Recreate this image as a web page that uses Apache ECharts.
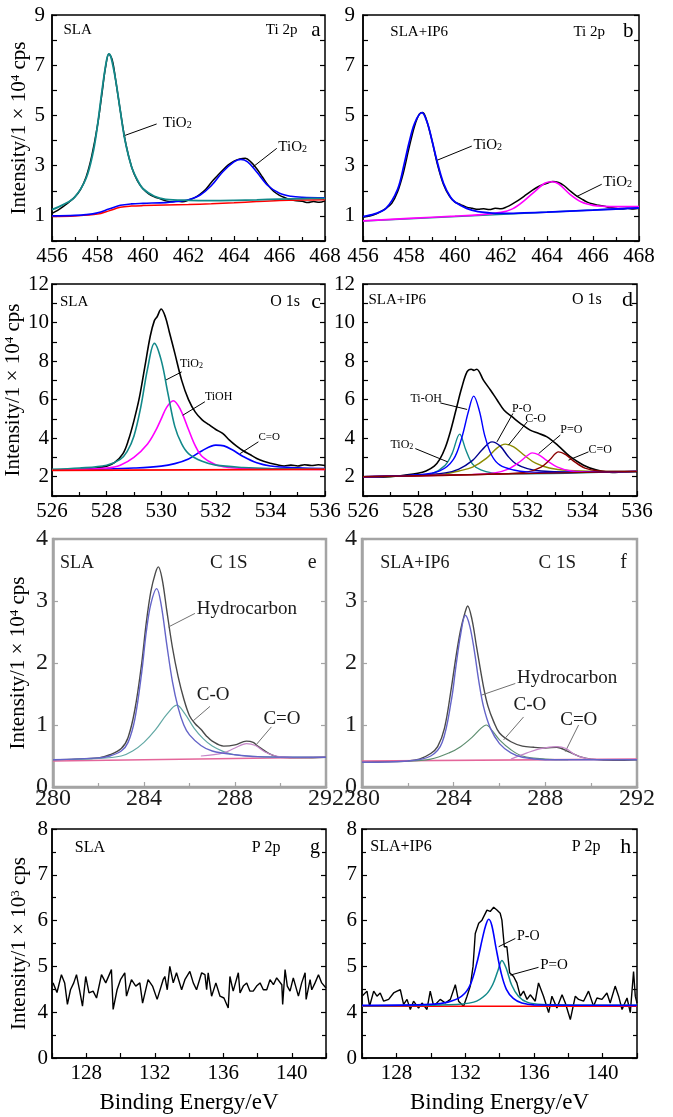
<!DOCTYPE html>
<html><head><meta charset="utf-8">
<script src="https://cdn.jsdelivr.net/npm/echarts/dist/echarts.min.js"></script>
<style>html,body{margin:0;padding:0;background:#fff}#c{width:673px;height:1117px}</style>
</head><body><div id="c"></div>
<script>
// ---------------- DATA (binding energy eV, intensity) ----------------
// Panel a : SLA, Ti 2p
const aRaw = [[456,1.1],[456.25,1.22],[456.5,1.38],[456.75,1.55],[457,1.75],[457.25,2.05],[457.5,2.55],[457.75,3.4],[458,4.6],[458.2,5.9],[458.35,6.9],[458.5,7.45],[458.65,7.2],[458.8,6.4],[459,5.2],[459.25,3.85],[459.5,2.95],[459.75,2.4],[460,2.08],[460.25,1.88],[460.5,1.76],[460.75,1.68],[461,1.6],[461.25,1.56],[461.5,1.59],[461.75,1.56],[462,1.63],[462.25,1.72],[462.5,1.86],[462.75,2.05],[463,2.33],[463.25,2.58],[463.5,2.82],[463.75,3.03],[464,3.18],[464.25,3.27],[464.5,3.3],[464.75,3.14],[465,2.88],[465.25,2.55],[465.5,2.22],[465.75,1.97],[466,1.82],[466.25,1.72],[466.5,1.64],[466.75,1.6],[467,1.58],[467.25,1.53],[467.5,1.57],[467.75,1.54],[468,1.6]];
const aTiO2a = [[456,1.25],[456.5,1.45],[457,1.75],[457.5,2.5],[457.8,3.5],[458,4.6],[458.2,6.0],[458.4,7.2],[458.5,7.45],[458.6,7.3],[458.8,6.4],[459,5.2],[459.2,4.05],[459.5,2.95],[459.8,2.35],[460,2.08],[460.5,1.78],[461,1.66],[462,1.62],[463,1.61],[464,1.62],[465,1.64],[466,1.67],[467,1.69],[468,1.7]];
const aTiO2b = [[456,1.0],[457,1.02],[457.5,1.05],[458,1.12],[458.5,1.27],[459,1.42],[459.5,1.48],[460,1.5],[461,1.53],[461.5,1.57],[462,1.64],[462.5,1.82],[463,2.2],[463.5,2.75],[464,3.15],[464.3,3.25],[464.6,3.15],[465,2.75],[465.5,2.2],[466,1.9],[466.5,1.78],[467,1.74],[468,1.72]];
const aBase = [[456,0.98],[457,1.0],[458,1.07],[458.5,1.2],[459,1.34],[459.5,1.39],[460,1.41],[461,1.43],[462,1.45],[463,1.48],[464,1.52],[465,1.57],[466,1.61],[467,1.63],[468,1.64]];
// Panel b : SLA+IP6, Ti 2p
const bRaw = [[456,0.95],[456.5,1.05],[457,1.3],[457.25,1.5],[457.5,1.95],[457.75,2.7],[458,3.7],[458.25,4.6],[458.45,5.05],[458.6,5.12],[458.75,4.85],[459,4.0],[459.25,3.0],[459.5,2.25],[459.75,1.8],[460,1.55],[460.25,1.45],[460.5,1.35],[460.75,1.3],[461,1.26],[461.25,1.28],[461.5,1.25],[461.75,1.3],[462,1.28],[462.25,1.36],[462.5,1.48],[462.75,1.62],[463,1.78],[463.25,1.95],[463.5,2.1],[463.75,2.22],[464,2.3],[464.25,2.37],[464.5,2.33],[464.75,2.2],[465,2.0],[465.25,1.82],[465.5,1.68],[465.75,1.55],[466,1.47],[466.25,1.42],[466.5,1.38],[466.75,1.33],[467,1.3],[467.25,1.27],[467.5,1.3],[467.75,1.27],[468,1.3]];
const bTiO2a = [[456,0.97],[456.5,1.08],[457,1.3],[457.5,2.05],[457.8,3.1],[458,3.9],[458.25,4.7],[458.56,5.11],[458.8,4.7],[459,4.0],[459.2,3.25],[459.5,2.3],[459.8,1.75],[460,1.55],[460.5,1.3],[461,1.17],[461.5,1.12],[462,1.1],[463,1.12],[464,1.15],[466,1.23],[468,1.32]];
const bTiO2b = [[456,0.8],[458,0.9],[460,0.99],[461,1.04],[462,1.14],[462.5,1.28],[463,1.6],[463.5,2.0],[463.9,2.3],[464.2,2.36],[464.5,2.28],[465,1.86],[465.5,1.55],[466,1.42],[466.5,1.38],[467,1.37],[468,1.37]];
const bBase = [[456,0.8],[468,1.32]];
// Panel c : SLA, O 1s
const cRaw = [[526,2.35],[527,2.38],[527.5,2.42],[528,2.55],[528.3,2.75],[528.6,3.2],[528.8,3.9],[529,4.9],[529.2,6.1],[529.4,7.7],[529.6,9.3],[529.75,10.1],[529.85,10.3],[530,10.7],[530.15,10.3],[530.3,9.5],[530.5,8.4],[530.75,7.0],[531,6.0],[531.25,5.35],[531.5,4.95],[531.75,4.7],[532,4.45],[532.25,4.25],[532.5,3.9],[532.75,3.6],[533,3.35],[533.25,3.15],[533.5,2.95],[533.75,2.8],[534,2.7],[534.25,2.62],[534.5,2.56],[534.75,2.6],[535,2.56],[535.25,2.62],[535.5,2.58],[535.75,2.62],[536,2.58]];
const cTiO2 = [[526,2.38],[527,2.45],[528,2.6],[528.5,2.9],[528.75,3.3],[529,4.1],[529.25,5.6],[529.5,7.6],[529.75,8.92],[530,8.05],[530.25,6.3],[530.5,4.6],[530.75,3.7],[531,3.2],[531.5,2.8],[532,2.6],[533,2.48],[534,2.43],[536,2.4]];
const cTiOH = [[526,2.35],[527,2.38],[528,2.45],[528.5,2.6],[529,3.0],[529.5,3.7],[529.8,4.4],[530,5.0],[530.2,5.6],[530.44,5.94],[530.7,5.5],[531,4.45],[531.25,3.6],[531.5,3.05],[532,2.62],[532.5,2.48],[533,2.43],[534,2.4],[536,2.38]];
const cCdO = [[526,2.35],[528,2.4],[529,2.45],[530,2.55],[530.5,2.68],[531,2.92],[531.5,3.35],[532,3.64],[532.3,3.6],[532.6,3.4],[533,3.05],[533.5,2.72],[534,2.56],[535,2.46],[536,2.42]];
const cBase = [[526,2.33],[536,2.38]];
// Panel d : SLA+IP6, O 1s
const dRaw = [[526,2.0],[526.5,1.97],[527,2.0],[527.5,2.08],[528,2.18],[528.3,2.3],[528.6,2.55],[528.8,2.9],[529,3.5],[529.2,4.4],[529.4,5.5],[529.6,6.6],[529.8,7.45],[529.95,7.58],[530.05,7.52],[530.15,7.58],[530.4,7.0],[530.65,6.5],[530.9,5.97],[531.15,5.45],[531.45,5.1],[531.75,4.76],[532.1,4.42],[532.4,4.25],[532.7,4.08],[533.1,3.64],[533.55,3.05],[534.05,2.6],[534.5,2.36],[535.1,2.22],[535.5,2.25],[536,2.26]];
const dTiO2 = [[526,2.0],[528,2.06],[528.5,2.15],[529,2.6],[529.25,3.2],[529.53,4.21],[529.75,3.4],[530,2.65],[530.3,2.35],[530.7,2.2],[531.5,2.15],[536,2.28]];
const dTiOH = [[526,2.0],[528,2.1],[528.8,2.3],[529.3,2.9],[529.6,4.0],[529.85,5.4],[530.04,6.18],[530.25,5.4],[530.45,4.1],[530.7,3.1],[531,2.6],[531.5,2.35],[532,2.25],[533,2.22],[536,2.28]];
const dPO = [[526,2.0],[528,2.08],[529,2.2],[529.5,2.4],[530,2.85],[530.35,3.4],[530.71,3.81],[531,3.6],[531.3,3.05],[531.6,2.65],[532,2.42],[532.5,2.3],[533.5,2.25],[536,2.28]];
const dCO = [[526,2.0],[528,2.06],[529,2.15],[529.5,2.3],[530,2.5],[530.5,2.95],[530.9,3.5],[531.19,3.69],[531.5,3.55],[531.9,3.1],[532.3,2.7],[532.8,2.45],[533.5,2.32],[534.5,2.28],[536,2.28]];
const dPdO = [[526,2.0],[530,2.12],[530.8,2.2],[531.3,2.4],[531.7,2.75],[532,3.1],[532.17,3.24],[532.4,3.15],[532.7,2.85],[533.1,2.5],[533.6,2.3],[534.5,2.25],[536,2.28]];
const dCdO = [[526,2.0],[531,2.14],[532,2.25],[532.5,2.5],[532.8,2.85],[533.14,3.29],[533.4,3.15],[533.7,2.8],[534.1,2.45],[534.6,2.3],[535.3,2.27],[536,2.28]];
const dBase = [[526,2.0],[536,2.28]];
// Panel e : SLA, C 1s
const eRaw = [[280,0.44],[281,0.45],[282,0.47],[282.5,0.52],[283,0.62],[283.3,0.8],[283.6,1.25],[283.9,2.0],[284.1,2.65],[284.3,3.15],[284.5,3.45],[284.63,3.55],[284.8,3.35],[285,2.85],[285.25,2.25],[285.5,1.78],[285.75,1.42],[286,1.15],[286.25,1.02],[286.5,0.93],[286.75,0.82],[287,0.74],[287.5,0.66],[288,0.68],[288.5,0.74],[288.8,0.72],[289,0.66],[289.5,0.54],[290,0.48],[291,0.47],[292,0.48]];
const eHC = [[280,0.44],[282,0.47],[282.5,0.5],[283,0.58],[283.3,0.72],[283.6,1.1],[283.9,1.85],[284.1,2.5],[284.3,2.95],[284.56,3.2],[284.75,2.95],[285,2.3],[285.25,1.7],[285.5,1.28],[285.75,1.0],[286,0.84],[286.5,0.67],[287,0.58],[288,0.52],[289,0.49],[292,0.48]];
const eCO = [[280,0.44],[282,0.46],[283,0.5],[283.5,0.58],[284,0.72],[284.5,0.92],[285,1.17],[285.44,1.32],[285.8,1.18],[286.2,0.95],[286.6,0.78],[287,0.66],[287.5,0.57],[288,0.52],[289,0.49],[292,0.48]];
const eCdO = [[286.5,0.5],[287.5,0.55],[288,0.63],[288.5,0.7],[288.9,0.67],[289.3,0.57],[289.8,0.5],[290.5,0.48]];
const eBase = [[280,0.42],[292,0.48]];
// Panel f : SLA+IP6, C 1s
const fRaw = [[280,0.4],[281,0.41],[282,0.42],[282.5,0.45],[283,0.54],[283.3,0.65],[283.6,0.95],[283.9,1.6],[284.1,2.1],[284.3,2.53],[284.5,2.82],[284.61,2.92],[284.8,2.7],[285,2.26],[285.3,1.62],[285.5,1.3],[285.75,1.05],[286,0.87],[286.5,0.73],[287,0.66],[287.5,0.64],[288,0.63],[288.5,0.64],[289,0.57],[289.5,0.49],[290,0.45],[291,0.43],[292,0.44]];
const fHC = [[280,0.4],[282,0.42],[283,0.5],[283.5,0.72],[283.9,1.4],[284.1,1.95],[284.3,2.45],[284.51,2.77],[284.7,2.6],[284.9,2.2],[285.1,1.7],[285.3,1.3],[285.6,0.95],[286,0.7],[286.5,0.55],[287,0.48],[288,0.44],[292,0.44]];
const fCO = [[282,0.42],[283,0.45],[283.8,0.55],[284.3,0.65],[284.8,0.8],[285.2,0.95],[285.42,1.0],[285.7,0.9],[286,0.76],[286.5,0.6],[287,0.5],[288,0.45],[289,0.44]];
const fCdO = [[286.5,0.45],[287.2,0.55],[287.8,0.62],[288.5,0.65],[288.9,0.62],[289.3,0.52],[289.8,0.46],[290.5,0.44]];
const fBase = [[280,0.42],[292,0.45]];
// Panel g : SLA, P 2p (x1000 cps, broken axis: 3 is drawn as "0")
const gRaw = [[126.06,4.64],[126.29,4.43],[126.55,4.82],[126.74,4.64],[126.9,4.17],[127.08,4.49],[127.27,4.64],[127.43,4.82],[127.62,4.46],[127.78,4.13],[127.97,4.78],[128.16,4.42],[128.4,4.46],[128.6,4.31],[128.89,4.82],[129.14,4.64],[129.47,4.93],[129.57,4.06],[129.8,4.49],[130.0,4.71],[130.25,4.86],[130.35,4.35],[130.64,4.71],[130.89,4.57],[131.13,4.64],[131.29,4.2],[131.61,4.71],[131.87,4.57],[132.14,4.28],[132.49,4.71],[132.59,4.78],[132.73,4.49],[132.88,5.0],[133.08,4.64],[133.27,4.86],[133.57,4.49],[133.76,4.71],[134.05,4.89],[134.25,4.64],[134.44,4.49],[134.74,4.86],[134.93,4.82],[135.03,4.49],[135.12,4.86],[135.32,4.35],[135.57,4.64],[135.81,4.35],[136.04,4.31],[136.29,4.09],[136.39,4.78],[136.58,4.46],[136.88,4.86],[136.98,4.42],[137.17,4.57],[137.37,4.64],[137.56,4.46],[137.75,4.46],[137.95,4.57],[138.15,4.64],[138.34,4.49],[138.54,4.49],[138.73,4.71],[138.93,4.6],[139.12,4.75],[139.42,4.6],[139.47,4.17],[139.61,4.93],[139.74,4.57],[139.9,4.46],[140.09,4.75],[140.39,4.35],[140.58,4.64],[140.78,4.86],[140.84,4.28],[141.07,4.71],[141.17,4.49],[141.36,4.64],[141.56,4.82],[141.75,4.64],[142.0,4.53]];
// Panel h : SLA+IP6, P 2p
const hRaw = [[126.0,4.35],[126.29,4.46],[126.44,4.13],[126.68,4.46],[126.87,4.35],[127.06,4.42],[127.26,4.24],[127.55,4.28],[127.84,4.42],[128.04,4.46],[128.23,4.49],[128.42,4.17],[128.62,4.28],[128.81,4.06],[129.0,4.24],[129.29,4.09],[129.49,4.2],[129.78,4.06],[129.97,4.46],[130.17,4.13],[130.55,4.28],[130.85,4.2],[131.14,4.28],[131.43,4.6],[131.62,4.24],[131.91,4.13],[132.11,4.35],[132.3,4.57],[132.46,5.0],[132.59,5.72],[132.79,5.94],[132.98,6.01],[133.27,6.23],[133.46,6.2],[133.66,6.29],[133.85,6.23],[134.04,6.16],[134.14,6.01],[134.28,5.43],[134.43,5.43],[134.59,4.86],[134.82,4.78],[135.01,4.64],[135.21,4.35],[135.4,4.46],[135.6,4.28],[135.79,4.38],[136.08,4.24],[136.27,4.64],[136.56,4.35],[136.86,3.99],[137.05,4.35],[137.34,4.09],[137.64,4.38],[137.83,4.2],[138.12,3.84],[138.41,4.35],[138.6,4.28],[138.89,4.24],[139.18,4.46],[139.47,4.13],[139.67,4.31],[139.96,4.28],[140.25,4.42],[140.44,4.2],[140.73,4.57],[140.93,4.35],[141.13,4.06],[141.42,4.31],[141.61,3.99],[141.8,4.89],[141.9,4.35],[142.0,4.2]];
const hPO = [[126,4.15],[130,4.17],[131,4.22],[131.8,4.35],[132.3,4.6],[132.7,5.1],[133,5.6],[133.2,5.9],[133.37,6.03],[133.55,5.9],[133.8,5.4],[134.1,4.85],[134.4,4.5],[134.8,4.3],[135.3,4.2],[136,4.16],[142,4.15]];
const hPdO = [[126,4.14],[131,4.16],[132.5,4.22],[133.2,4.38],[133.6,4.6],[133.9,4.9],[134.14,5.13],[134.4,4.95],[134.7,4.6],[135.1,4.35],[135.6,4.22],[136.5,4.17],[142,4.15]];
const hBase = [[126,4.13],[142,4.13]];

// Tick labels
const tiXTicks = [456,458,460,462,464,466,468];
const tiYTicks = [1,3,5,7,9];
const oXTicks = [526,528,530,532,534,536];
const oYTicks = [2,4,6,8,10,12];
const cXTicks = [280,284,288,292];
const cYTicks = [0,1,2,3,4];
const pXTicks = [128,132,136,140];
const pYTickValues = [3,4,5,6,7,8];
const pYTickLabels = ['0','4','5','6','7','8'];

// ---------------- CHART ----------------
const FONT = 'Liberation Serif';
const TEAL='#12898a', BLUE='#0000ff', MAG='#ff00ff', RED='#ff0000', NAVY='#000090', OLIVE='#8c8c00', BROWN='#8b0000';
const E_BLACK='#4a4a4a', E_BLUE='#6464c8', E_TEAL='#62a8a4', E_PINK='#c486c8', E_RED='#e4669a';
const YNAME4 = 'Intensity/1 × 10{sup|4} cps';
const YNAME3 = 'Intensity/1 × 10{sup|3} cps';
const XNAME = 'Binding Energy/eV';

function fmtList(list){ return v => list.includes(v) ? String(v) : ''; }
function fmtMap(vals, labels){ return v => { const i = vals.indexOf(v); return i >= 0 ? labels[i] : ''; }; }

const panels = [
 {box:[52,15,273,226], x:{min:456,max:468,interval:2,minor:2,fmt:fmtList(tiXTicks)}, y:{min:0,max:9,interval:1,fmt:fmtList(tiYTicks),margin:7}, yName:YNAME4,
  series:[[aRaw,'#000',1.5],[aBase,RED,1.5],[aTiO2b,BLUE,1.6],[aTiO2a,TEAL,1.8]],
  texts:[[456.5,8.4,'SLA',15],[465.4,8.4,'Ti 2p',15],[467.4,8.4,'a',21],[460.88,4.69,'TiO{sub|2}',15],[465.95,3.76,'TiO{sub|2}',15]],
  arrows:[[460.6,4.66,459.13,4.18],[465.88,3.69,464.85,2.96]]},
 {box:[363,15,276,226], x:{min:456,max:468,interval:2,minor:2,fmt:fmtList(tiXTicks)}, y:{min:0,max:9,interval:1,fmt:fmtList(tiYTicks),margin:8},
  series:[[bRaw,'#000',1.5],[bBase,TEAL,1.5],[bTiO2b,MAG,1.6],[bTiO2a,BLUE,1.8]],
  texts:[[457.19,8.34,'SLA+IP6',15],[465.15,8.34,'Ti 2p',15],[467.3,8.34,'b',21],[460.8,3.82,'TiO{sub|2}',15],[466.45,2.36,'TiO{sub|2}',15]],
  arrows:[[460.73,3.78,459.18,3.2],[466.38,2.26,465.29,1.77]]},
 {box:[52,284,273,212], x:{min:526,max:536,interval:2,minor:2,fmt:fmtList(oXTicks)}, y:{min:1,max:12,interval:1,fmt:fmtList(oYTicks),margin:3}, yName:YNAME4,
  series:[[cRaw,'#000',1.6],[cCdO,BLUE,1.6],[cTiOH,MAG,1.6],[cTiO2,TEAL,1.6],[cBase,RED,1.6]],
  texts:[[526.29,11.08,'SLA',15],[533.99,11.08,'O 1s',16],[535.5,11.08,'c',22],[530.69,7.84,'TiO{sub|2}',12],[531.6,6.15,'TiOH',12],[533.56,4.07,'C=O',11]],
  arrows:[[530.75,7.44,530.16,7.01],[531.6,5.89,530.79,5.19],[533.56,3.81,532.89,3.2]]},
 {box:[363,284,274,212], x:{min:526,max:536,interval:2,minor:2,fmt:fmtList(oXTicks)}, y:{min:1,max:12,interval:1,fmt:fmtList(oYTicks),margin:8},
  series:[[dRaw,'#000',1.6],[dTiO2,TEAL,1.4],[dCO,OLIVE,1.4],[dPO,NAVY,1.4],[dPdO,MAG,1.4],[dCdO,BROWN,1.4],[dTiOH,BLUE,1.4],[dBase,BROWN,1.4]],
  texts:[[526.2,11.17,'SLA+IP6',15],[533.63,11.17,'O 1s',16],[535.45,11.17,'d',22],[527.73,6.06,'Ti-OH',12],[527.0,3.64,'TiO{sub|2}',12],[531.44,5.54,'P-O',12],[531.92,5.02,'C-O',12],[533.2,4.42,'P=O',12],[534.23,3.38,'C=O',12]],
  arrows:[[528.82,5.83,529.8,5.49],[527.91,3.46,529.09,2.77],[531.47,5.28,530.89,3.81],[531.99,4.85,531.31,3.64],[533.2,4.16,532.41,3.2],[534.23,3.29,533.5,2.86]]},
 {box:[53,539,273,248], fuzzy:true, x:{min:280,max:292,interval:4,minor:2,fmt:fmtList(cXTicks)}, y:{min:0,max:4,interval:1,fmt:fmtList(cYTicks),margin:5}, yName:YNAME4,
  series:[[eRaw,E_BLACK,1.4],[eBase,E_RED,1.6],[eCO,E_TEAL,1.2],[eCdO,E_PINK,1.2],[eHC,E_BLUE,1.4]],
  texts:[[280.31,3.61,'SLA',18],[286.9,3.61,'C 1S',19],[291.2,3.61,'e',20],[286.32,2.87,'Hydrocarbon',19],[286.32,1.48,'C-O',19],[289.25,1.09,'C=O',19]],
  arrows:[[286.24,2.8,285.07,2.58],[286.9,1.3,286.17,1.07],[289.6,0.97,288.88,0.66]]},
 {box:[362,539,275,248], fuzzy:true, x:{min:280,max:292,interval:4,minor:2,fmt:fmtList(cXTicks)}, y:{min:0,max:4,interval:1,fmt:fmtList(cYTicks),margin:5},
  series:[[fRaw,E_BLACK,1.4],[fBase,E_RED,1.6],[fCO,'#5e8e70',1.2],[fCdO,E_PINK,1.2],[fHC,E_BLUE,1.4]],
  texts:[[280.8,3.61,'SLA+IP6',18],[287.7,3.61,'C 1S',19],[291.27,3.61,'f',20],[286.76,1.75,'Hydrocarbon',19],[286.61,1.32,'C-O',19],[288.65,1.08,'C=O',19]],
  arrows:[[286.69,1.67,285.2,1.48],[287.05,1.13,286.18,0.76],[289.45,1.0,288.87,0.57]]},
 {box:[52,829,274,229], x:{min:126,max:142,interval:2,minor:0,fmt:fmtList(pXTicks)}, y:{min:3,max:8,interval:1,minor:2,fmt:fmtMap(pYTickValues,pYTickLabels),margin:4}, yName:YNAME3, xName:XNAME,
  series:[[gRaw,'#000',1.4,'raw']],
  texts:[[127.33,7.58,'SLA',16],[137.66,7.58,'P 2p',16],[141.07,7.58,'g',20]],
  arrows:[]},
 {box:[362,829,275,229], x:{min:126,max:142,interval:2,minor:0,fmt:fmtList(pXTicks)}, y:{min:3,max:8,interval:1,minor:2,fmt:fmtMap(pYTickValues,pYTickLabels),margin:5}, xName:XNAME,
  series:[[hRaw,'#000',1.4,'raw'],[hBase,RED,1.4],[hPdO,TEAL,1.5],[hPO,BLUE,1.6]],
  texts:[[126.48,7.61,'SLA+IP6',16],[138.2,7.61,'P 2p',16],[141.03,7.61,'h',22],[135.02,5.65,'P-O',14],[136.37,5.03,'P=O',15]],
  arrows:[[134.92,5.61,133.95,5.43],[136.27,4.98,134.63,4.81]]}
];

const option = {animation:false, grid:[], xAxis:[], yAxis:[], series:[]};
panels.forEach((p, i) => {
  const frame = p.fuzzy ? '#a4a4a4' : '#000';
  const fw = p.fuzzy ? 2.5 : 1.5;
  const tcol = p.fuzzy ? '#1a1a1a' : '#000';
  const tickSize = p.fuzzy ? 24 : 21;
  option.grid.push({left:p.box[0], top:p.box[1], width:p.box[2], height:p.box[3], show:true, borderColor:frame, borderWidth:fw, backgroundColor:'transparent'});
  const xa = {type:'value', gridIndex:i, min:p.x.min, max:p.x.max, interval:p.x.interval,
    axisLine:{show:true, onZero:false, lineStyle:{color:frame, width:fw}},
    axisTick:{show:true, inside:true, length:5, lineStyle:{color:frame, width:1.2}},
    minorTick:{show:!!p.x.minor, splitNumber:p.x.minor||2, length:4, lineStyle:{color:frame, width:1.2}},
    splitLine:{show:false}, minorSplitLine:{show:false},
    axisLabel:{formatter:p.x.fmt, fontFamily:FONT, fontSize:tickSize, color:tcol, margin:p.fuzzy?0:5, showMinLabel:true, showMaxLabel:true}};
  if (p.xName) Object.assign(xa, {name:p.xName, nameLocation:'middle', nameGap:33, nameTextStyle:{fontFamily:FONT, fontSize:23, color:'#000'}});
  option.xAxis.push(xa);
  const ybase = {type:'value', gridIndex:i, min:p.y.min, max:p.y.max, interval:p.y.interval, splitLine:{show:false},
    axisTick:{show:true, inside:true, length:5, lineStyle:{color:frame, width:1.2}},
    minorTick:{show:!!p.y.minor, splitNumber:p.y.minor||2, length:4, lineStyle:{color:frame, width:1.2}}};
  const yl = Object.assign({}, ybase, {position:'left',
    axisLine:{show:true, onZero:false, lineStyle:{color:frame, width:fw}},
    axisLabel:{formatter:p.y.fmt, fontFamily:FONT, fontSize:tickSize, color:tcol, margin:p.y.margin, showMinLabel:true, showMaxLabel:true}});
  if (p.yName) Object.assign(yl, {name:p.yName, nameLocation:'middle', nameRotate:90, nameGap:p.fuzzy?24:22,
    nameTextStyle:{fontFamily:FONT, fontSize:21, color:'#000', rich:{sup:{fontFamily:FONT, fontSize:13, color:'#000', verticalAlign:'top'}}}});
  option.yAxis.push(yl);
  option.yAxis.push(Object.assign({}, ybase, {position:'right', axisLine:{show:false}, axisLabel:{show:false}}));
  p.series.forEach((s, k) => {
    const ser = {type:'line', xAxisIndex:i, yAxisIndex:i*2, data:s[0], symbol:'none', showSymbol:false,
      smooth: s[3] === 'raw' ? false : 0.35, lineStyle:{color:s[1], width:s[2]}, itemStyle:{color:s[1]},
      emphasis:{disabled:true}, silent:true, z:2+k};
    if (k === 0) {
      ser.markPoint = {symbol:'circle', symbolSize:0, silent:true, itemStyle:{color:'transparent'},
        data: p.texts.map(t => ({coord:[t[0], t[1]], label:{show:true, position:'right', distance:0, formatter:t[2],
          fontFamily:FONT, fontSize:t[3], color:tcol,
          rich:{sub:{fontFamily:FONT, fontSize:Math.round(t[3]*0.65), color:tcol, verticalAlign:'bottom'}}}}))};
      ser.markLine = {silent:true, symbol:['none','arrow'], symbolSize:[0,6], label:{show:false},
        lineStyle:{color:p.fuzzy?'#707070':'#000', width:1, type:'solid'}, emphasis:{disabled:true},
        data: p.arrows.map(a => [{coord:[a[0], a[1]]}, {coord:[a[2], a[3]]}])};
    }
    option.series.push(ser);
  });
});
const chart = echarts.init(document.getElementById('c'), null, {renderer:'canvas'});
chart.setOption(option);
</script></body></html>
